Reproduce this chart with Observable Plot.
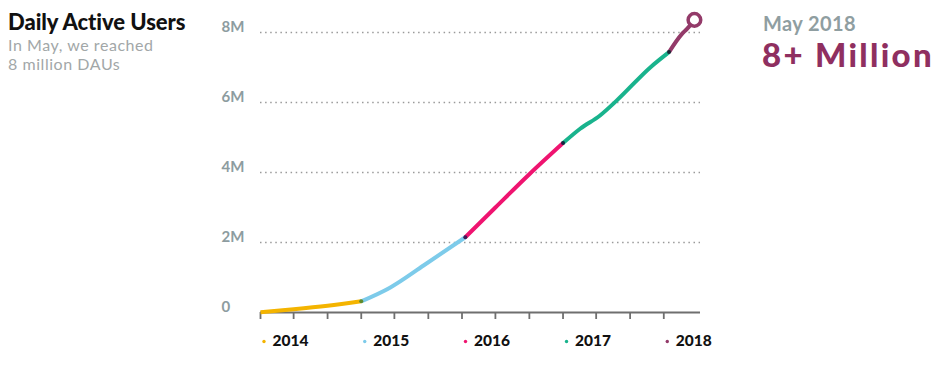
<!DOCTYPE html>
<html>
<head>
<meta charset="utf-8">
<script src="https://cdn.jsdelivr.net/npm/d3@7"></script>
<script src="https://cdn.jsdelivr.net/npm/@observablehq/plot@0.6"></script>
<style>
  html, body { margin: 0; padding: 0; background: #fff; }
  #wrap { position: relative; width: 941px; height: 369px; font-family: Lato, "Open Sans", sans-serif; }
  #wrap svg { position: absolute; left: 0; top: 0; }
  .t { position: absolute; white-space: nowrap; }
  #title { left: 8px; top: 8px; font-size: 22px; font-weight: 900; color: #111; letter-spacing: -0.05px; }
  #sub { left: 8px; top: 35px; font-size: 16px; line-height: 19px; color: #a2a7a8; letter-spacing: 0.55px; }
  #may { left: 763px; top: 11px; font-size: 20px; font-weight: 700; color: #8f9ea1; letter-spacing: 0.4px; }
  #big { left: 762px; top: 34px; font-size: 33px; font-weight: 900; color: #8f2f60; letter-spacing: 2.3px; }
</style>
</head>
<body>
<div id="wrap">
  <div id="chart"></div>
  <div class="t" id="title">Daily Active Users</div>
  <div class="t" id="sub">In May, we reached<br>8 million DAUs</div>
  <div class="t" id="may">May 2018</div>
  <div class="t" id="big">8+ Million</div>
</div>
<script>
// Daily active users (millions)
const dates = [
  "2014-01-01","2014-05-01","2014-09-01",
  "2015-01-01","2015-04-15","2015-08-16",
  "2016-01-13","2016-05-01","2016-09-01",
  "2017-01-01","2017-03-04","2017-05-15","2017-07-15","2017-11-14",
  "2018-01-20","2018-03-08","2018-03-27","2018-04-22"
];
const values = [
  0.01, 0.09, 0.19,
  0.32, 0.71, 1.35,
  2.15, 3.00, 3.95,
  4.84, 5.25, 5.63, 6.06, 7.01,
  7.44, 7.96, 8.11, 8.36
];
const years = ["2014","2015","2016","2017","2018"];
const yearColors = ["#f4b400","#7dcbea","#ef1470","#19b38d","#933a69"];
const junctionColors = ["#5f8a2c","#3e1c56","#14253f","#1c2434"];
const yTicks = [0, 2, 4, 6, 8];
const yTickLabels = ["0", "2M", "4M", "6M", "8M"];

const parse = d3.utcParse("%Y-%m-%d");
const rows = dates.map((d, i) => ({date: parse(d), value: values[i], year: d.slice(0, 4)}));

// segments: each year's points plus the first point of the next year
const segs = [];
years.forEach((y, k) => {
  const pts = rows.filter(r => r.year === y);
  const next = rows.find(r => r.year === years[k + 1]);
  pts.forEach(p => segs.push({...p, seg: y}));
  if (next) segs.push({...next, seg: y});
});
const junctions = years.slice(1).map((y, k) => ({...rows.find(r => r.year === y), c: junctionColors[k]}));
const last = rows[rows.length - 1];
const yearStarts = years.map(y => ({date: parse(y + "-01-01"), year: y}));
const tickDates = d3.utcMonth.every(4).range(parse("2014-01-01"), parse("2018-01-02"));

const chart = Plot.plot({
  width: 941,
  height: 369,
  marginLeft: 260,
  marginRight: 241,
  marginTop: 32,
  marginBottom: 57,
  style: {fontFamily: "Lato, 'Open Sans', sans-serif", background: "transparent", overflow: "visible"},
  x: {type: "utc", domain: [parse("2014-01-01"), parse("2018-05-14")]},
  y: {domain: [0, 8]},
  color: {domain: years, range: yearColors},
  marks: [
    Plot.ruleY(yTicks.filter(d => d > 0), {stroke: "#9a9a9a", strokeWidth: 1.6, strokeDasharray: "1.5,3.6"}),
    Plot.axisY({ticks: yTicks, tickFormat: d => yTickLabels[yTicks.indexOf(d)], tickSize: 0, tickPadding: 0,
      textAnchor: "start", dx: -39, dy: -5, fontSize: 15, fontWeight: 700, fill: "#8d9ca0", label: null,
      style: {letterSpacing: "0.5px"}}),
    Plot.axisX({ticks: tickDates, tickSize: 7, tickFormat: () => "", stroke: "#6f6f6f", strokeWidth: 1.8, label: null}),
    Plot.ruleY([0], {stroke: "#6f6f6f", strokeWidth: 2}),
    Plot.line(segs, {x: "date", y: "value", z: "seg", stroke: "seg", strokeWidth: 4, curve: "monotone-x", strokeLinecap: "butt"}),
    Plot.dot(junctions, {x: "date", y: "value", r: 2, fill: "c", stroke: "none"}),
    Plot.dot([last], {x: "date", y: "value", r: 6.3, fill: "white", stroke: yearColors[4], strokeWidth: 3.5}),
    Plot.dot(yearStarts, {x: "date", frameAnchor: "bottom", dy: 29, dx: 3.5, r: 1.7, fill: "year", stroke: "none"}),
    Plot.text(yearStarts, {x: "date", text: "year", frameAnchor: "bottom", lineAnchor: "middle", dy: 29, dx: 12, textAnchor: "start",
      fontSize: 15.5, fontWeight: 900, fill: "#111"})
  ]
});
document.getElementById("chart").appendChild(chart);
</script>
</body>
</html>
